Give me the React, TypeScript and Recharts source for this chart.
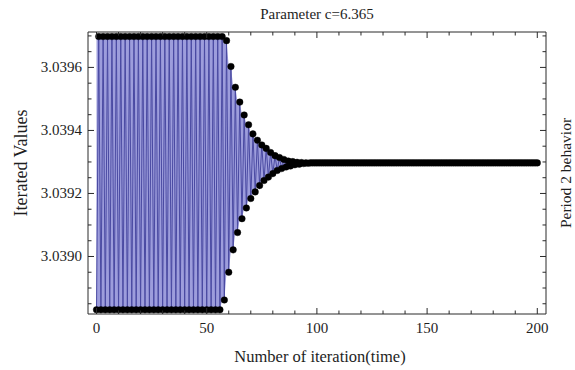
import React from 'react';
import { ComposedChart, Area, Line, XAxis, YAxis, Label } from 'recharts';

// Iterated values of the map, one per iteration step (step = array index).
// Steps 0..57: the orbit still flips between its two extreme values.
const flipPhase: number[] = [
  3.038831, 3.039698, 3.038831, 3.039698, 3.038831, 3.039698, 3.038831, 3.039698,
  3.038831, 3.039698, 3.038831, 3.039698, 3.038831, 3.039698, 3.038831, 3.039698,
  3.038831, 3.039698, 3.038831, 3.039698, 3.038831, 3.039698, 3.038831, 3.039698,
  3.038831, 3.039698, 3.038831, 3.039698, 3.038831, 3.039698, 3.038831, 3.039698,
  3.038831, 3.039698, 3.038831, 3.039698, 3.038831, 3.039698, 3.038831, 3.039698,
  3.038831, 3.039698, 3.038831, 3.039698, 3.038831, 3.039698, 3.038831, 3.039698,
  3.038831, 3.039698, 3.038831, 3.039698, 3.038831, 3.039698, 3.038831, 3.039698,
  3.038831, 3.039698,
];

// Steps 58..99: damped oscillation towards the fixed point.
const dampedPhase: number[] = [
  3.038862, 3.039685, 3.038950, 3.039603, 3.039021, 3.039537, 3.039076, 3.039490,
  3.039120, 3.039449, 3.039154, 3.039418, 3.039184, 3.039389, 3.039205, 3.039369,
  3.039225, 3.039354, 3.039241, 3.039343, 3.039252, 3.039330, 3.039263, 3.039320,
  3.039273, 3.039314, 3.039279, 3.039308, 3.039284, 3.039303, 3.039287, 3.039301,
  3.039291, 3.039299, 3.039293, 3.039298, 3.039295, 3.039297, 3.039296, 3.039297,
  3.039297, 3.039297,
];

// Steps 100..200: settled value.
const settledPhase: number[] = [
  3.039297, 3.039297, 3.039297, 3.039297, 3.039297, 3.039297, 3.039297, 3.039297,
  3.039297, 3.039297, 3.039297, 3.039297, 3.039297, 3.039297, 3.039297, 3.039297,
  3.039297, 3.039297, 3.039297, 3.039297, 3.039297, 3.039297, 3.039297, 3.039297,
  3.039297, 3.039297, 3.039297, 3.039297, 3.039297, 3.039297, 3.039297, 3.039297,
  3.039297, 3.039297, 3.039297, 3.039297, 3.039297, 3.039297, 3.039297, 3.039297,
  3.039297, 3.039297, 3.039297, 3.039297, 3.039297, 3.039297, 3.039297, 3.039297,
  3.039297, 3.039297, 3.039297, 3.039297, 3.039297, 3.039297, 3.039297, 3.039297,
  3.039297, 3.039297, 3.039297, 3.039297, 3.039297, 3.039297, 3.039297, 3.039297,
  3.039297, 3.039297, 3.039297, 3.039297, 3.039297, 3.039297, 3.039297, 3.039297,
  3.039297, 3.039297, 3.039297, 3.039297, 3.039297, 3.039297, 3.039297, 3.039297,
  3.039297, 3.039297, 3.039297, 3.039297, 3.039297, 3.039297, 3.039297, 3.039297,
  3.039297, 3.039297, 3.039297, 3.039297, 3.039297, 3.039297, 3.039297, 3.039297,
  3.039297, 3.039297, 3.039297, 3.039297, 3.039297,
];

const xTicks: number[] = [
  0, 10, 20, 30, 40, 50, 60, 70, 80, 90, 100, 110, 120, 130, 140, 150, 160, 170, 180, 190, 200,
];
const xMajor: number[] = [0, 50, 100, 150, 200];

const yTicks: number[] = [
  3.03885, 3.0389, 3.03895, 3.039, 3.03905, 3.0391, 3.03915, 3.0392, 3.03925,
  3.0393, 3.03935, 3.0394, 3.03945, 3.0395, 3.03955, 3.0396, 3.03965, 3.0397,
];
const yMajor: number[] = [3.039, 3.0392, 3.0394, 3.0396];

const TITLE = 'Parameter c=6.365';
const X_LABEL = 'Number of iteration(time)';
const Y_LABEL = 'Iterated Values';
const RIGHT_LABEL = 'Period 2 behavior';

const FONT = '"Liberation Serif", "Times New Roman", serif';
const INK = '#1e1e1e';
const FRAME = '#2a2a2a';

const values: number[] = [...flipPhase, ...dampedPhase, ...settledPhase];

// Each row carries the value and the span covered by the segment to the next step,
// which gives the shaded band behind the joined line.
const rows = values.map((v, i) => {
  const next = i + 1 < values.length ? values[i + 1] : v;
  return { step: i, value: v, band: [Math.min(v, next), Math.max(v, next)] };
});

const isMajorX = (v: number) => xMajor.includes(v);
const isMajorY = (v: number) => yMajor.some((m) => Math.abs(m - v) < 1e-9);

const BottomTick = (props: any) => {
  const { x, y, payload } = props;
  const major = isMajorX(payload.value);
  return (
    <g>
      <line x1={x} x2={x} y1={y} y2={y - (major ? 6 : 3.5)} stroke={FRAME} strokeWidth={1} />
      {major && (
        <text x={x} y={y + 19} textAnchor="middle" fontFamily={FONT} fontSize={15} fill={INK}>
          {payload.value}
        </text>
      )}
    </g>
  );
};

const TopTick = (props: any) => {
  const { x, y, payload } = props;
  const major = isMajorX(payload.value);
  return <line x1={x} x2={x} y1={y} y2={y + (major ? 6 : 3.5)} stroke={FRAME} strokeWidth={1} />;
};

const LeftTick = (props: any) => {
  const { x, y, payload } = props;
  const major = isMajorY(payload.value);
  return (
    <g>
      <line x1={x} x2={x + (major ? 6 : 3.5)} y1={y} y2={y} stroke={FRAME} strokeWidth={1} />
      {major && (
        <text x={x - 6} y={y + 5} textAnchor="end" fontFamily={FONT} fontSize={15} fill={INK}>
          {Number(payload.value).toFixed(4)}
        </text>
      )}
    </g>
  );
};

const RightTick = (props: any) => {
  const { x, y, payload } = props;
  const major = isMajorY(payload.value);
  return <line x1={x} x2={x - (major ? 6 : 3.5)} y1={y} y2={y} stroke={FRAME} strokeWidth={1} />;
};

const TitleLabel = (props: any) => {
  const vb = props.viewBox || {};
  return (
    <text x={vb.x + vb.width / 2} y={19} textAnchor="middle" fontFamily={FONT} fontSize={15} fill={INK}>
      {TITLE}
    </text>
  );
};

const XTitleLabel = (props: any) => {
  const vb = props.viewBox || {};
  return (
    <text x={vb.x + vb.width / 2 + 3} y={362} textAnchor="middle" fontFamily={FONT} fontSize={16.5} fill={INK}>
      {X_LABEL}
    </text>
  );
};

const YTitleLabel = (props: any) => {
  const vb = props.viewBox || {};
  const cx = 21;
  const cy = vb.y + vb.height / 2 - 10;
  return (
    <text
      x={cx}
      y={cy}
      transform={`rotate(-90, ${cx}, ${cy})`}
      textAnchor="middle"
      dominantBaseline="central"
      fontFamily={FONT}
      fontSize={18}
      fill={INK}
    >
      {Y_LABEL}
    </text>
  );
};

const RightTitleLabel = (props: any) => {
  const vb = props.viewBox || {};
  const cx = 565;
  const cy = vb.y + vb.height / 2;
  return (
    <text
      x={cx}
      y={cy}
      transform={`rotate(-90, ${cx}, ${cy})`}
      textAnchor="middle"
      dominantBaseline="central"
      fontFamily={FONT}
      fontSize={15.5}
      fill={INK}
    >
      {RIGHT_LABEL}
    </text>
  );
};

const X_DOMAIN: [number, number] = [-3.86, 203.95];
const Y_DOMAIN: [number, number] = [3.0388175, 3.0397124];

export default function App() {
  return (
    <div style={{ position: 'absolute', left: 0, top: 0, width: 575, height: 370, background: '#fff' }}>
      <ComposedChart
        width={575}
        height={370}
        data={rows}
        margin={{ top: 20, right: 0, bottom: 0, left: 28 }}
      >
        <XAxis
          xAxisId="bottom"
          dataKey="step"
          type="number"
          orientation="bottom"
          domain={X_DOMAIN}
          allowDataOverflow
          ticks={xTicks}
          interval={0}
          height={56}
          tickSize={0}
          tickMargin={0}
          tickLine={false}
          tick={BottomTick}
          axisLine={{ stroke: FRAME, strokeWidth: 1 }}
        >
          <Label content={XTitleLabel} />
        </XAxis>
        <XAxis
          xAxisId="top"
          dataKey="step"
          type="number"
          orientation="top"
          domain={X_DOMAIN}
          allowDataOverflow
          ticks={xTicks}
          interval={0}
          height={12}
          tickSize={0}
          tickMargin={0}
          tickLine={false}
          tick={TopTick}
          axisLine={{ stroke: FRAME, strokeWidth: 1 }}
        >
          <Label content={TitleLabel} />
        </XAxis>
        <YAxis
          yAxisId="left"
          type="number"
          orientation="left"
          domain={Y_DOMAIN}
          allowDataOverflow
          ticks={yTicks}
          interval={0}
          width={60}
          tickSize={0}
          tickMargin={0}
          tickLine={false}
          tick={LeftTick}
          axisLine={{ stroke: FRAME, strokeWidth: 1 }}
        >
          <Label content={YTitleLabel} />
        </YAxis>
        <YAxis
          yAxisId="right"
          type="number"
          orientation="right"
          domain={Y_DOMAIN}
          allowDataOverflow
          ticks={yTicks}
          interval={0}
          width={29}
          tickSize={0}
          tickMargin={0}
          tickLine={false}
          tick={RightTick}
          axisLine={{ stroke: FRAME, strokeWidth: 1 }}
        >
          <Label content={RightTitleLabel} />
        </YAxis>
        <Area
          xAxisId="bottom"
          yAxisId="left"
          type="linear"
          dataKey="band"
          stroke="none"
          fill="#9d9ddc"
          fillOpacity={1}
          isAnimationActive={false}
          activeDot={false}
        />
        <Line
          xAxisId="bottom"
          yAxisId="left"
          type="linear"
          dataKey="value"
          stroke="#4a4aa2"
          strokeWidth={1}
          dot={{ r: 3.3, fill: '#000', stroke: '#000', strokeWidth: 0.4 }}
          activeDot={false}
          isAnimationActive={false}
        />
      </ComposedChart>
    </div>
  );
}
